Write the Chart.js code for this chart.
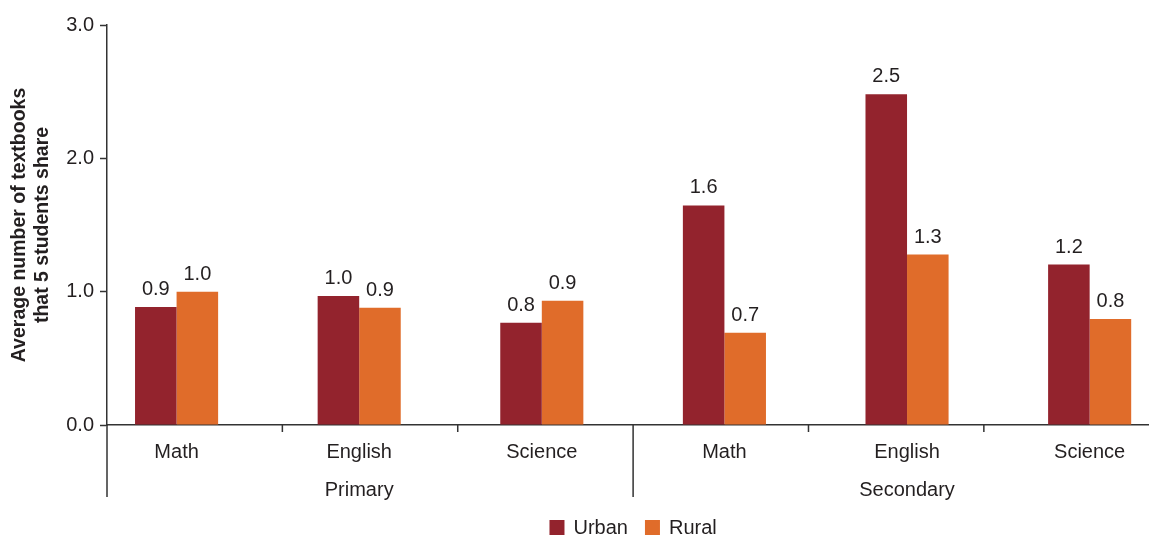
<!DOCTYPE html>
<html>
<head>
<meta charset="utf-8">
<script src="https://cdn.jsdelivr.net/npm/chart.js@4"></script>
<style>
  html, body { margin: 0; padding: 0; background: #fff; }
  #wrap { width: 1149px; height: 535px; position: relative; }
</style>
</head>
<body>
<div id="wrap"><canvas id="c"></canvas></div>
<script>
// ---- data ----
const levels = ["Primary", "Secondary"];
const subjects = ["Math", "English", "Science"];
const urban = [0.885, 0.968, 0.767, 1.647, 2.48, 1.203];
const rural = [1.0, 0.88, 0.932, 0.692, 1.278, 0.795];
const seriesNames = ["Urban", "Rural"];
const yTicks = [0, 1, 2, 3];
const yTitle = ["Average number of textbooks", "that 5 students share"];

// ---- derived ----
const categories = [];
levels.forEach(l => subjects.forEach(s => categories.push({ subject: s, level: l })));
const toPoints = arr => arr.map((v, i) => ({ x: i, y: v }));

const FONT = "'Liberation Sans', Arial, Helvetica, sans-serif";
const TEXT = "#231f20";
const AXIS = "#333333";
const colors = ["#93232d", "#e06c2a"];

const extras = {
  id: "extras",
  afterDraw(chart) {
    const ctx = chart.ctx;
    const xs = chart.scales.x;
    const area = chart.chartArea;
    ctx.save();
    // dividers on x axis: equal slots between the y axis and the level boundary
    ctx.strokeStyle = AXIS;
    ctx.lineWidth = 1.5;
    const longLen = 72, shortLen = 7;
    const n = subjects.length;
    const levelEdgePx = xs.getPixelForValue(n - 0.5);
    const slot = (levelEdgePx - area.left) / n;
    ctx.beginPath();
    for (let j = 0; j < categories.length; j++) {
      const px = area.left + j * slot;
      const isLevelEdge = j % n === 0;
      ctx.moveTo(px, area.bottom);
      ctx.lineTo(px, area.bottom + (isLevelEdge ? longLen : shortLen));
    }
    ctx.stroke();

    // value labels
    ctx.fillStyle = TEXT;
    ctx.font = "20px " + FONT;
    ctx.textAlign = "center";
    ctx.textBaseline = "alphabetic";
    chart.data.datasets.forEach((ds, di) => {
      const meta = chart.getDatasetMeta(di);
      meta.data.forEach((el, i) => {
        ctx.fillText(ds.data[i].y.toFixed(1), el.x, el.y - 12);
      });
    });

    // legend
    const box = 15, gapText = 9, gapItem = 17;
    const widths = chart.data.datasets.map(ds => box + gapText + ctx.measureText(ds.label).width);
    const total = widths.reduce((a, b) => a + b, 0) + gapItem * (widths.length - 1);
    let x = levelEdgePx - total / 2;
    const baseY = 534;
    ctx.textAlign = "left";
    chart.data.datasets.forEach((ds, di) => {
      ctx.fillStyle = ds.backgroundColor;
      ctx.fillRect(x, baseY - 14, box, box);
      ctx.fillStyle = TEXT;
      ctx.fillText(ds.label, x + box + gapText, baseY);
      x += widths[di] + gapItem;
    });
    ctx.restore();
  }
};

new Chart(document.getElementById("c"), {
  type: "bar",
  data: {
    datasets: [
      { label: seriesNames[0], data: toPoints(urban), backgroundColor: colors[0] },
      { label: seriesNames[1], data: toPoints(rural), backgroundColor: colors[1] }
    ]
  },
  options: {
    responsive: true,
    maintainAspectRatio: false,
    animation: false,
    events: [],
    layout: { padding: { top: 25, right: 0, bottom: 0, left: 0 } },
    datasets: { bar: { categoryPercentage: 0.455, barPercentage: 1.0 } },
    plugins: { legend: { display: false }, tooltip: { enabled: false } },
    scales: {
      x: {
        type: "linear",
        offset: false,
        min: -0.381,
        max: 5.325,
        afterBuildTicks(s) { s.ticks = categories.map((c, i) => ({ value: i })); },
        afterFit(s) { s.height = 110; },
        grid: { display: true, offset: false, drawOnChartArea: false, drawTicks: false },
        border: { display: true, color: AXIS, width: 1.5 },
        ticks: {
          autoSkip: false,
          maxRotation: 0,
          padding: 8,
          color: TEXT,
          font: { family: FONT, size: 20, lineHeight: 1.9 },
          callback(v) {
            const c = categories[v];
            if (!c) return "";
            const mid = subjects[Math.floor(subjects.length / 2)];
            return c.subject === mid ? [c.subject, c.level] : c.subject;
          }
        }
      },
      y: {
        min: 0,
        max: 3,
        afterBuildTicks(s) { s.ticks = yTicks.map(v => ({ value: v })); },
        afterFit(s) { s.width = 107; },
        grid: { display: true, drawOnChartArea: false, drawTicks: true, tickLength: 7, tickColor: AXIS, tickWidth: 1.5 },
        border: { display: true, color: AXIS, width: 1.5 },
        ticks: {
          padding: 6,
          color: TEXT,
          font: { family: FONT, size: 20 },
          callback: v => Number(v).toFixed(1)
        },
        title: {
          display: true,
          text: yTitle,
          color: TEXT,
          font: { family: FONT, size: 19.5, weight: "bold", lineHeight: 1.18 },
          padding: { top: 8, bottom: 0 }
        }
      }
    }
  },
  plugins: [extras]
});
</script>
</body>
</html>
